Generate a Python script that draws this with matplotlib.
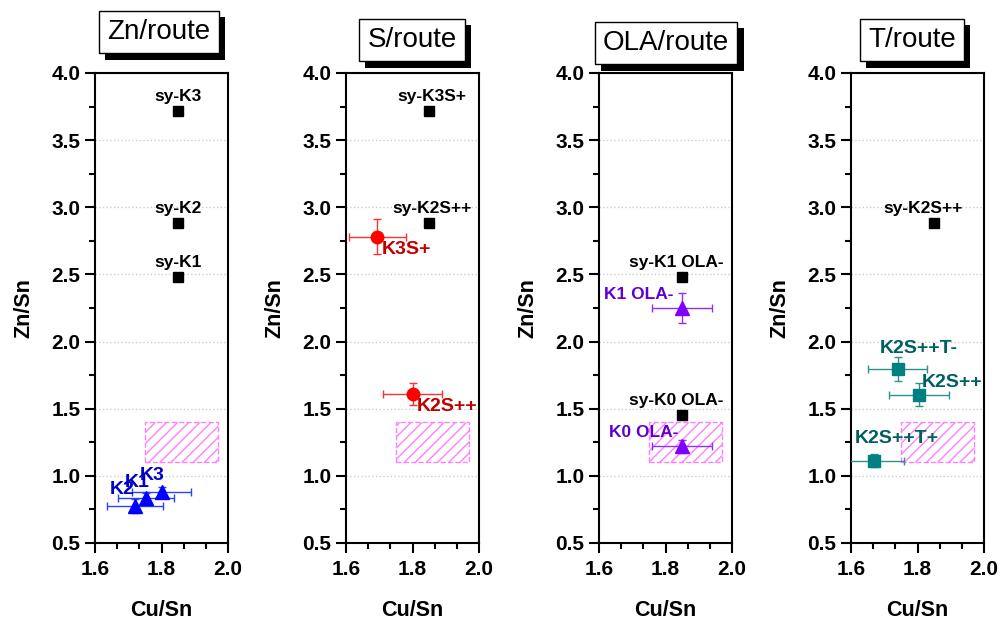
import matplotlib
matplotlib.use("Agg")
import matplotlib.pyplot as plt
import matplotlib.patheffects as pe
from matplotlib.patches import Rectangle
from matplotlib.ticker import MultipleLocator, AutoMinorLocator

plt.rcParams['font.family'] = ['Liberation Sans', 'DejaVu Sans']

# ---- data ----
titles = ["Zn/route", "S/route", "OLA/route", "T/route"]

# synthetic (black squares)
sy_names = [["sy-K3", "sy-K2", "sy-K1"],
            ["sy-K3S+", "sy-K2S++"],
            ["sy-K1 OLA-", "sy-K0 OLA-"],
            ["sy-K2S++"]]
sy_x = [[1.85, 1.85, 1.85], [1.85, 1.85], [1.85, 1.85], [1.85]]
sy_y = [[3.72, 2.88, 2.48], [3.72, 2.88], [2.48, 1.45], [2.88]]

# measured samples
zn_names = ["K3", "K1", "K2"]
zn_x = [1.80, 1.753, 1.72]
zn_y = [0.88, 0.835, 0.775]
zn_xerr = [0.088, 0.085, 0.084]
zn_yerr = [0.04, 0.04, 0.05]

s_names = ["K3S+", "K2S++"]
s_x = [1.694, 1.80]
s_y = [2.78, 1.61]
s_xerr = [0.086, 0.09]
s_yerr = [0.13, 0.08]

ola_names = ["K1 OLA-", "K0 OLA-"]
ola_x = [1.85, 1.85]
ola_y = [2.25, 1.22]
ola_xerr = [0.09, 0.09]
ola_yerr = [0.11, 0.05]

t_names = ["K2S++T-", "K2S++", "K2S++T+"]
t_x = [1.74, 1.805, 1.67]
t_y = [1.795, 1.605, 1.113]
t_xerr = [0.09, 0.09, 0.088]
t_yerr = [0.09, 0.085, 0.05]

# target region (hatched box)
box_x = [1.75, 1.97]
box_y = [1.10, 1.40]

W, H = 1001, 621
fig = plt.figure(figsize=(W / 100, H / 100), dpi=100)

lefts = [95, 346, 599, 851]
ax_w, ax_top, ax_bot = 133, 73, 543
title_pos = [(159, 32), (412, 40), (666, 43), (912, 40)]
sy_dx = [0, 2, -4, -8]

axes = []
for i in range(4):
    ax = fig.add_axes([lefts[i] / W, (H - ax_bot) / H, ax_w / W, (ax_bot - ax_top) / H])
    ax.set_xlim(1.6, 2.0)
    ax.set_ylim(0.5, 4.0)
    ax.xaxis.set_major_locator(MultipleLocator(0.2))
    ax.xaxis.set_minor_locator(AutoMinorLocator(3))
    ax.yaxis.set_major_locator(MultipleLocator(0.5))
    ax.yaxis.set_minor_locator(AutoMinorLocator(2))
    ax.tick_params(which='major', direction='out', length=7, width=1.5, labelsize=15)
    ax.tick_params(axis='x', which='major', pad=5)
    ax.tick_params(which='minor', direction='out', length=4, width=1.5)
    for lab in ax.get_xticklabels() + ax.get_yticklabels():
        lab.set_fontweight('bold')
    for sp in ax.spines.values():
        sp.set_linewidth(1.5)
    ax.grid(axis='y', which='major', linestyle=':', color='#cccccc', lw=1)
    ax.set_axisbelow(True)
    ax.set_xlabel("Cu/Sn", fontsize=15.5, fontweight='bold', labelpad=15)
    ax.set_ylabel("Zn/Sn", fontsize=15.5, fontweight='bold', labelpad=12)

    # hatched target region
    ax.add_patch(Rectangle((box_x[0], box_y[0]), box_x[1] - box_x[0], box_y[1] - box_y[0],
                           fill=False, edgecolor='#ff80ff', hatch='///', lw=1, ls='--', zorder=1))

    # synthetic points
    ax.plot(sy_x[i], sy_y[i], 's', color='black', ms=7, zorder=4)
    for n, x, y in zip(sy_names[i], sy_x[i], sy_y[i]):
        ax.annotate(n, (x, y), xytext=(sy_dx[i], 10.5), textcoords='offset points', ha='center',
                    va='center', fontsize=12.5, fontweight='bold', color='black')

    t = fig.text(title_pos[i][0] / W, 1 - title_pos[i][1] / H, titles[i], fontsize=20,
                 ha='center', va='center',
                 bbox=dict(boxstyle='square,pad=0.3', fc='white', ec='black', lw=1))
    t.get_bbox_patch().set_path_effects([
        pe.SimplePatchShadow(offset=(4.5, -4.5), shadow_rgbFace='black', alpha=1.0),
        pe.Normal()])
    axes.append(ax)


def samples(ax, xs, ys, xe, ye, names, marker, mcolor, ecolor, tcolor, offsets, fs, ms):
    ax.errorbar(xs, ys, xerr=xe, yerr=ye, fmt=marker, color=mcolor, ecolor=ecolor,
                ms=ms, capsize=3, elinewidth=1, capthick=1, zorder=5)
    for n, x, y, off in zip(names, xs, ys, offsets):
        ax.annotate(n, (x, y), xytext=off, textcoords='offset points', ha='center',
                    va='center', fontsize=fs, fontweight='bold', color=tcolor, zorder=6)


samples(axes[0], zn_x, zn_y, zn_xerr, zn_yerr, zn_names, '^', '#0000ff', '#3040ff', '#0000c8',
        [(-7, 12), (-6, 11), (-9, 12)], 14, 10)
samples(axes[1], s_x, s_y, s_xerr, s_yerr, s_names, 'o', '#ff0000', '#ff3030', '#c00000',
        [(21, -9), (25, -9)], 14, 9)
samples(axes[2], ola_x, ola_y, ola_xerr, ola_yerr, ola_names, '^', '#8000ff', '#9030ff', '#6000d0',
        [(-31, 10), (-28, 10)], 12.5, 10)
samples(axes[3], t_x, t_y, t_xerr, t_yerr, t_names, 's', '#008080', '#309090', '#006060',
        [(15, 15), (24, 9), (16, 16)], 14, 8)

fig.savefig("out.png", dpi=100)
